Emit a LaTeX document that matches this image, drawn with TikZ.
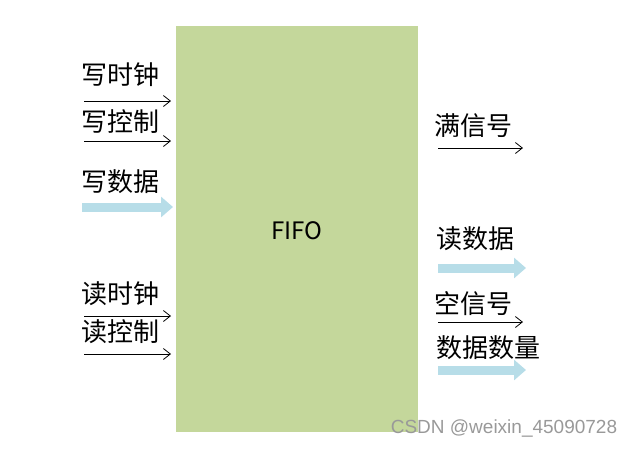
\documentclass[tikz,border=0pt]{standalone}
\usepackage{fontspec}
\setmainfont{Noto Sans CJK SC}
\newfontfamily\wmfont{Liberation Sans}
\usepackage{tikz}
\usetikzlibrary{arrows.meta}

\definecolor{fifogreen}{RGB}{196,215,155}
\definecolor{datablue}{RGB}{183,221,232}

\tikzset{
  lbl/.style={inner sep=0pt, anchor=west, font=\fontsize{26}{30}\selectfont},
  sig/.style={line width=0.8pt, -{Straight Barb[length=7pt,width=11pt]}},
  databus/.style={draw=datablue, line width=9pt, -{Triangle[length=12pt,width=20pt]}, shorten >=0pt}
}

\begin{document}
\begin{tikzpicture}[x=1pt, y=-1pt]
                    \useasboundingbox (0,0) rectangle (635,448);
                    % Box
                    \node[fill=fifogreen, minimum width=242pt, minimum height=406pt, inner sep=0pt] (fifo) at (297,229) {};
                    \node[font=\fontsize{24}{28}\selectfont] (name) at (297,231) {FIFO};
                    % Labels
                    \node[lbl] (wclk) at (81,75) {写时钟};
                    \node[lbl] (wctl) at (81,122) {写控制};
                    \node[lbl] (wdat) at (81,182) {写数据};
                    \node[lbl] (rclk) at (81,294) {读时钟};
                    \node[lbl] (rctl) at (81,332) {读控制};
                    \node[lbl] (full) at (434,126) {满信号};
                    \node[lbl] (rdat) at (436,239) {读数据};
                    \node[lbl] (empt) at (434,304) {空信号};
                    \node[lbl] (cnt) at (436,348) {数据数量};
                    % Arrow ends
                    \coordinate (a1) at (84,101);  \coordinate (b1) at (171,101);
                    \coordinate (a2) at (84,141);  \coordinate (b2) at (171,141);
                    \coordinate (a3) at (82,207);  \coordinate (b3) at (173,207);
                    \coordinate (a4) at (84,316);  \coordinate (b4) at (171,316);
                    \coordinate (a5) at (84,354);  \coordinate (b5) at (171,354);
                    \coordinate (a6) at (438,148); \coordinate (b6) at (523,148);
                    \coordinate (a7) at (438,268); \coordinate (b7) at (526,268);
                    \coordinate (a8) at (438,322); \coordinate (b8) at (523,322);
                    \coordinate (a9) at (438,370); \coordinate (b9) at (526,370);
                    % Arrows
                    \draw[sig] (a1) -- (b1);
                    \draw[sig] (a2) -- (b2);
                    \draw[databus] (a3) -- (b3);
                    \draw[sig] (a4) -- (b4);
                    \draw[sig] (a5) -- (b5);
                    \draw[sig] (a6) -- (b6);
                    \draw[databus] (a7) -- (b7);
                    \draw[sig] (a8) -- (b8);
                    \draw[databus] (a9) -- (b9);
                    % Watermark
                    \node[text=gray!80, font=\wmfont\fontsize{19}{22}\selectfont, inner sep=0pt] (mark) at (504,428) {CSDN @weixin\_45090728};
                \end{tikzpicture}
\end{document}
